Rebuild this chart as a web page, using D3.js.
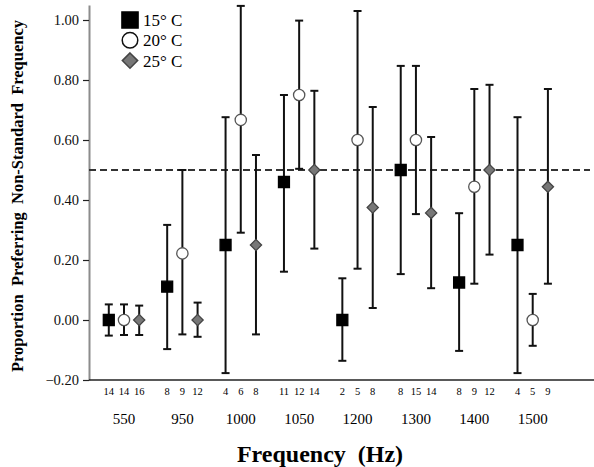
<!DOCTYPE html>
<html>
<head>
<meta charset="utf-8">
<script src="https://cdn.jsdelivr.net/npm/d3@7"></script>
<style>
  body { margin: 0; background: #fff; }
</style>
</head>
<body>
<svg id="chart" width="594" height="467"></svg>
<script>
const frequencies = ['550', '950', '1000', '1050', '1200', '1300', '1400', '1500'];
const temps = ['15° C', '20° C', '25° C'];

// proportion, lower bound, upper bound per frequency
const mean15 = [0, 0.111, 0.25, 0.46, 0, 0.5, 0.125, 0.25];
const low15 = [-0.052, -0.097, -0.177, 0.161, -0.136, 0.153, -0.103, -0.177];
const high15 = [0.052, 0.317, 0.676, 0.75, 0.139, 0.847, 0.356, 0.676];

const mean20 = [0, 0.222, 0.667, 0.75, 0.6, 0.6, 0.444, 0];
const low20 = [-0.05, -0.048, 0.291, 0.504, 0.171, 0.353, 0.121, -0.086];
const high20 = [0.052, 0.5, 1.047, 0.998, 1.03, 0.847, 0.77, 0.087];

const mean25 = [0, 0, 0.25, 0.5, 0.375, 0.357, 0.5, 0.444];
const low25 = [-0.05, -0.056, -0.048, 0.238, 0.04, 0.106, 0.218, 0.121];
const high25 = [0.048, 0.058, 0.55, 0.764, 0.71, 0.61, 0.784, 0.77];

const n15 = [14, 8, 4, 11, 2, 8, 8, 4];
const n20 = [14, 9, 6, 12, 5, 15, 9, 5];
const n25 = [16, 12, 8, 14, 8, 14, 12, 9];

const yTicks = [-0.2, 0, 0.2, 0.4, 0.6, 0.8, 1.0];
const chance = 0.5;

const series = [
  { temp: temps[0], mean: mean15, low: low15, high: high15, n: n15 },
  { temp: temps[1], mean: mean20, low: low20, high: high20, n: n20 },
  { temp: temps[2], mean: mean25, low: low25, high: high25, n: n25 }
];

const points = [];
series.forEach(s => {
  frequencies.forEach((f, i) => {
    points.push({ freq: f, temp: s.temp, mean: s.mean[i], low: s.low[i], high: s.high[i], n: s.n[i] });
  });
});

const FONT = '"Liberation Serif", "Times New Roman", serif';
const svg = d3.select('#chart');
const axisX = 89;
const plotRight = 594;

const y = d3.scaleLinear().domain([-0.2, 1.05]).range([380, 5]);
const x = d3.scaleBand().domain(frequencies).range([94.8, 561.9]);
const sub = d3.scalePoint().domain(temps).range([-15.2, 15.2]);
const px = d => x(d.freq) + x.bandwidth() / 2 + sub(d.temp);

// y axis
const yAxis = d3.axisLeft(y).tickValues(yTicks).tickFormat(d3.format('.2f')).tickSize(6).tickSizeOuter(0);
const gy = svg.append('g').attr('transform', `translate(${axisX},0)`).call(yAxis);
gy.select('.domain').attr('stroke', '#8c8c8c').attr('stroke-width', 2);
gy.selectAll('.tick line').attr('stroke', '#222').attr('stroke-width', 1.2);
gy.selectAll('.tick text').attr('font-size', 14.5).attr('fill', '#111').attr('x', -10);

// x axis line
svg.append('line')
  .attr('x1', axisX).attr('x2', plotRight)
  .attr('y1', y(-0.2)).attr('y2', y(-0.2))
  .attr('stroke', '#222').attr('stroke-width', 1.5);

// chance line
svg.append('line')
  .attr('x1', axisX).attr('x2', plotRight - 4)
  .attr('y1', y(chance)).attr('y2', y(chance))
  .attr('stroke', '#333').attr('stroke-width', 2)
  .attr('stroke-dasharray', '7,4');

// error bars
const bars = svg.append('g').selectAll('g').data(points).join('g');
bars.append('line')
  .attr('x1', px).attr('x2', px)
  .attr('y1', d => y(d.low)).attr('y2', d => y(d.high))
  .attr('stroke', '#111').attr('stroke-width', 2);
['low', 'high'].forEach(k => {
  bars.filter(d => d[k] > -0.2).append('line')
    .attr('x1', d => px(d) - 4).attr('x2', d => px(d) + 4)
    .attr('y1', d => y(d[k])).attr('y2', d => y(d[k]))
    .attr('stroke', '#111').attr('stroke-width', 2);
});

const symbol = {
  '15° C': d3.symbol(d3.symbolSquare, 120),
  '20° C': d3.symbol(d3.symbolCircle, 100),
  '25° C': d3.symbol(d3.symbolDiamond2, 80)
};
const fill = { '15° C': '#000', '20° C': '#fff', '25° C': '#777' };
const stroke = { '15° C': '#000', '20° C': '#555', '25° C': '#444' };

bars.append('path')
  .attr('transform', d => `translate(${px(d)},${y(d.mean)})`)
  .attr('d', d => symbol[d.temp]())
  .attr('fill', d => fill[d.temp])
  .attr('stroke', d => stroke[d.temp])
  .attr('stroke-width', 1.3);

// sample sizes
svg.append('g').selectAll('text').data(points).join('text')
  .attr('x', px).attr('y', 395)
  .attr('text-anchor', 'middle')
  .attr('font-size', 10.5)
  .text(d => d.n);

// frequency labels
svg.append('g').selectAll('text').data(frequencies).join('text')
  .attr('x', d => x(d) + x.bandwidth() / 2).attr('y', 424)
  .attr('text-anchor', 'middle')
  .attr('font-size', 15)
  .text(d => d);

svg.append('text')
  .attr('x', 320).attr('y', 462)
  .attr('text-anchor', 'middle')
  .attr('font-size', 24).attr('font-weight', 'bold')
  .style('white-space', 'pre')
  .text('Frequency  (Hz)');

svg.append('text')
  .attr('transform', 'translate(23,196) rotate(-90)')
  .attr('text-anchor', 'middle')
  .attr('font-size', 16.5).attr('font-weight', 'bold')
  .style('white-space', 'pre')
  .text('Proportion  Preferring  Non-Standard  Frequency');

// legend
const legend = svg.append('g').selectAll('g').data(temps).join('g')
  .attr('transform', (d, i) => `translate(130,${20 + i * 20.3})`);
const legendSymbol = {
  '15° C': d3.symbol(d3.symbolSquare, 260),
  '20° C': d3.symbol(d3.symbolCircle, 190),
  '25° C': d3.symbol(d3.symbolDiamond2, 150)
};
legend.append('path')
  .attr('d', d => legendSymbol[d]())
  .attr('fill', d => fill[d])
  .attr('stroke', d => d === '20° C' ? '#111' : stroke[d])
  .attr('stroke-width', 1.5);
legend.append('text')
  .attr('x', 13).attr('y', 6)
  .attr('font-size', 17)
  .text(d => d);

svg.selectAll('text').style('font-family', FONT);
</script>
</body>
</html>
